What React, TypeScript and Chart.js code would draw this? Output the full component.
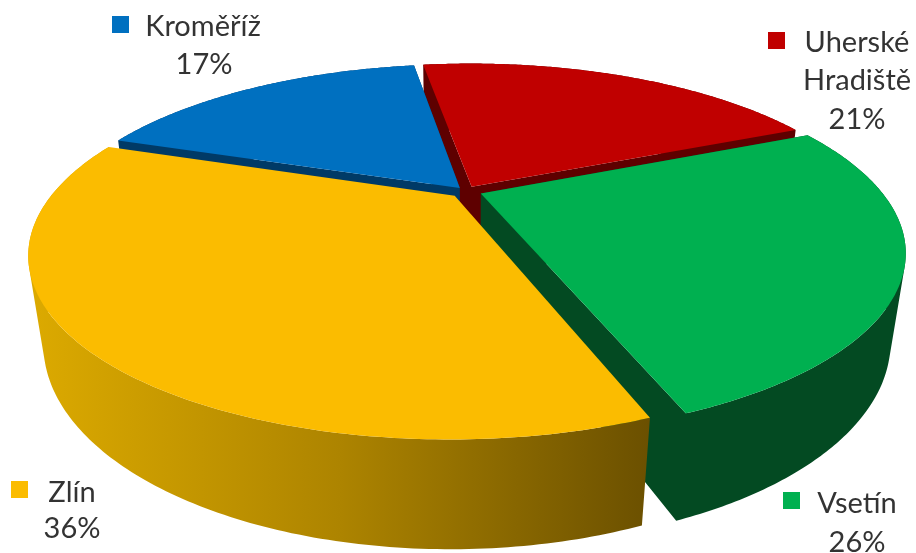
import React, { useEffect, useRef } from "react";
import { Chart, registerables } from "chart.js";

Chart.register(...registerables);

const categories = ["Kroměříž", "Uherské Hradiště", "Vsetín", "Zlín"];
const shares = [17.3, 21, 25.8, 35.9];
const topColors = ["#0070C0", "#C00000", "#00B050", "#FBBC00"];
const wallColors = ["#003A66", "#5E0000", "#034A22", "#7A5C00"];
const explode = [4.5, 5.5, 7.5, 7.5];
const paintOrder = [1, 0, 2, 3];

const labelLines = [["Kroměříž", "17%"], ["Uherské", "Hradiště", "21%"], ["Vsetín", "26%"], ["Zlín", "36%"]];
const labelAnchors = [
  { mx: 112, my: 16, lines: [[203, 36], [204, 74]] },
  { mx: 768, my: 32, lines: [[857, 52], [857, 90], [857, 129]] },
  { mx: 783, my: 492, lines: [[857, 513], [857, 552]] },
  { mx: 11, my: 481, lines: [[72, 502], [72, 538]] },
];

const VIEW = { A: 400, B: 164, p: 0.312, q: 0.032, H: 86 };

const project = (cx: number, cy: number, u: number, v: number, low: boolean) => {
  const w = 1 - VIEW.p * v + (low ? VIEW.q : 0);
  return [cx + (VIEW.A * u) / w, cy + (VIEW.B * v + (low ? VIEW.H : 0)) / w];
};

const signedArea = (q: number[][]) => {
  let s = 0;
  q.forEach((p, i) => {
    const r = q[(i + 1) % q.length];
    s += p[0] * r[1] - r[0] * p[1];
  });
  return s;
};

const tiltPlugin = {
  id: "tilt",
  beforeDatasetDraw(chart: any) {
    const ctx = chart.ctx;
    const meta = chart.getDatasetMeta(0);
    paintOrder.forEach((i) => {
      const arc = meta.data[i];
      const { x, y, startAngle, endAngle, outerRadius } = arc.getProps(["x", "y", "startAngle", "endAngle", "outerRadius"]);
      const mid = (startAngle + endAngle) / 2;
      const rho = (arc.options.offset || 0) / outerRadius;
      const du = Math.cos(mid) * rho;
      const dv = Math.sin(mid) * rho;
      const n = 160;
      const top: number[][] = [];
      const low: number[][] = [];
      for (let k = 0; k <= n; k++) {
        const a = startAngle + ((endAngle - startAngle) * k) / n;
        const u = Math.cos(a) + du;
        const v = Math.sin(a) + dv;
        top.push(project(x, y, u, v, false));
        low.push(project(x, y, u, v, true));
      }
      const apexTop = project(x, y, du, dv, false);
      const apexLow = project(x, y, du, dv, true);
      let wallFill: any = wallColors[i];
      if (i === 3) {
        const g = ctx.createLinearGradient(30, 0, 650, 0);
        g.addColorStop(0, "#DCAA00");
        g.addColorStop(0.5, "#AD8400");
        g.addColorStop(1, "#6B5000");
        wallFill = g;
      }
      const trace = (pts: number[][]) => {
        const q = signedArea(pts) < 0 ? [...pts].reverse() : pts;
        q.forEach((p, k) => (k ? ctx.lineTo(p[0], p[1]) : ctx.moveTo(p[0], p[1])));
        ctx.closePath();
      };
      ctx.beginPath();
      if (i !== 3) {
        trace([apexTop, top[0], low[0], apexLow]);
        trace([apexTop, top[n], low[n], apexLow]);
      }
      for (let k = 0; k < n; k++) trace([top[k], top[k + 1], low[k + 1], low[k]]);
      ctx.fillStyle = wallFill;
      ctx.fill("nonzero");
      ctx.beginPath();
      trace([apexTop, ...top]);
      ctx.fillStyle = arc.options.backgroundColor;
      ctx.fill();
    });
    return false;
  },
  afterDraw(chart: any) {
    const ctx = chart.ctx;
    ctx.save();
    ctx.textAlign = "center";
    ctx.textBaseline = "alphabetic";
    ctx.font = "29px Lato, sans-serif";
    labelLines.forEach((lines, i) => {
      const a = labelAnchors[i];
      ctx.fillStyle = topColors[i];
      ctx.fillRect(a.mx, a.my, 17, 17);
      ctx.fillStyle = "#333333";
      lines.forEach((t, k) => ctx.fillText(t, a.lines[k][0], a.lines[k][1]));
    });
    ctx.restore();
  },
};

export default function App() {
  const ref = useRef<HTMLCanvasElement>(null);
  useEffect(() => {
    const chart = new Chart(ref.current as HTMLCanvasElement, {
      type: "pie",
      data: {
        labels: categories,
        datasets: [{ data: shares, backgroundColor: topColors, offset: explode, borderWidth: 0 }],
      },
      options: {
        animation: false,
        responsive: false,
        rotation: 288.8,
        layout: { padding: { left: 16, bottom: 171 } },
        plugins: { legend: { display: false }, tooltip: { enabled: false }, title: { display: false } },
      },
      plugins: [tiltPlugin],
    } as any);
    return () => chart.destroy();
  }, []);
  return (
    <div style={{ position: "absolute", left: 0, top: 0, width: 916, height: 553, background: "#fff" }}>
      <canvas ref={ref} width={916} height={553} style={{ display: "block" }} />
    </div>
  );
}
